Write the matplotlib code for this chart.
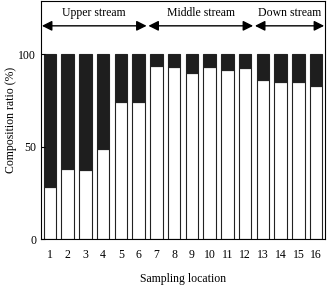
import matplotlib.pyplot as plt
import numpy as np

plt.rcParams['font.family'] = ['Liberation Serif', 'DejaVu Serif']

# sampling locations and white (lower) fraction of composition
locations = list(range(1, 17))
white_part = [28, 38, 37.5, 49, 74.5, 74, 93.5, 93, 90, 93, 91.5, 92.5, 86, 85, 85, 83]
dark_part = [100 - v for v in white_part]

regions = ["Upper stream", "Middle stream", "Down stream"]
region_bounds = [(0.5, 6.5), (6.5, 12.5), (12.5, 16.5)]

fig = plt.figure(figsize=(3.28, 3.0), dpi=100)
ax = fig.add_axes([0.125, 0.203, 0.866, 0.794])

x = np.array(locations)
ax.bar(x, white_part, width=0.7, color='white', edgecolor='#222222', linewidth=0.8)
ax.bar(x, dark_part, width=0.7, bottom=white_part, color='#1e1e1e',
       edgecolor='#222222', linewidth=0.8)

# region arrows and labels
for name, (a, b) in zip(regions, region_bounds):
    ax.annotate('', xy=(a + 0.05, 115.5), xytext=(b - 0.05, 115.5),
                arrowprops=dict(arrowstyle='<|-|>', color='black', lw=1.0,
                                mutation_scale=15, shrinkA=0, shrinkB=0))
    ax.text((a + b) / 2, 122.5, name, ha='center', va='center', fontsize=8.5)

ax.set_xlim(0.5, 16.5)
ax.set_ylim(0, 129)
ax.set_xticks(locations)
ax.set_yticks([0, 50, 100])
ax.tick_params(axis='x', length=0, labelsize=8.5, pad=7)
ax.tick_params(axis='y', direction='in', length=3, labelsize=8.5)
for s in ax.spines.values():
    s.set_linewidth(0.8)

ax.set_xlabel('Sampling location', fontsize=8.5, labelpad=9)
ax.set_ylabel('Composition ratio (%)', fontsize=8.5, labelpad=1)

fig.savefig('out.png', dpi=100)
